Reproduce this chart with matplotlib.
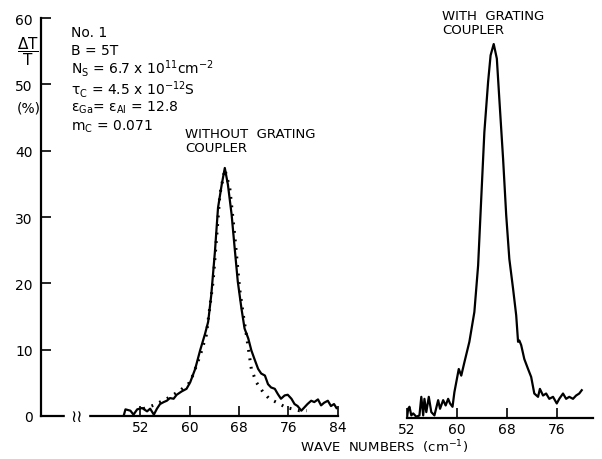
import matplotlib
matplotlib.use('Agg')
import matplotlib.pyplot as plt

plt.rcParams['font.family'] = ['DejaVu Sans']
plt.rcParams['mathtext.default'] = 'regular'

# left panel: without grating coupler (measured, solid)
wn_meas = [49.3, 49.6, 50.4, 50.9, 51.5, 52.3, 53.1, 53.6, 54.2, 54.7, 55.2, 55.8,
           56.3, 56.8, 57.4, 57.9, 58.7, 59.5, 60.1, 60.9, 61.7, 62.5, 63.0, 63.5,
           64.1, 64.6, 65.2, 65.7, 66.2, 66.8, 67.3, 67.8, 68.4, 68.9, 69.5, 70.0,
           70.5, 71.1, 71.6, 72.2, 72.7, 73.2, 73.8, 74.3, 74.8, 75.4, 75.9, 76.5,
           77.0, 77.5, 78.1, 78.6, 79.1, 79.7, 80.2, 80.8, 81.3, 81.8, 82.4, 82.9,
           83.4, 83.8]
dt_meas = [0.0, 1.0, 0.8, 0.2, 1.0, 1.2, 0.7, 1.1, 0.2, 1.1, 1.8, 2.1,
           2.3, 2.7, 2.6, 3.2, 3.7, 4.1, 5.1, 7.1, 9.9, 12.4, 14.2, 18.2,
           24.8, 31.4, 34.9, 37.4, 34.9, 30.4, 25.3, 20.3, 16.2, 13.2, 11.7, 9.9,
           8.6, 7.1, 6.4, 6.1, 4.8, 4.3, 4.1, 3.3, 2.6, 3.1, 3.2, 2.6,
           1.8, 1.5, 0.8, 1.3, 1.8, 2.3, 2.1, 2.5, 1.6, 2.0, 2.3, 1.5,
           1.8, 1.2]

# left panel: theory (dotted)
wn_fit = [52.5, 54.1, 56.3, 58.4, 60.1, 61.7, 62.7, 63.8, 64.4, 64.9, 65.7, 66.5,
          67.3, 68.1, 68.7, 69.2, 70.0, 70.8, 71.9, 72.9, 74.0, 75.6, 77.8, 79.0]
dt_fit = [1.1, 1.6, 2.6, 3.8, 5.1, 9.1, 12.2, 20.3, 27.3, 33.4, 37.2, 34.4,
          27.3, 19.2, 15.2, 12.2, 7.1, 5.1, 3.6, 2.6, 2.1, 1.3, 0.8, 0.8]

# right panel: with grating coupler
wn_grat = [52.0, 52.2, 52.4, 52.7, 53.0, 53.5, 54.0, 54.3, 54.6, 54.8, 55.1, 55.5,
           55.9, 56.4, 57.0, 57.3, 57.8, 58.2, 58.6, 58.9, 59.3, 59.6, 60.0, 60.3,
           60.7, 61.2, 62.0, 62.8, 63.4, 63.9, 64.4, 65.0, 65.4, 65.9, 66.4, 66.8,
           67.4, 67.9, 68.4, 69.0, 69.5, 69.8, 70.0, 70.3, 70.8, 71.4, 71.9, 72.4,
           73.0, 73.3, 73.8, 74.3, 74.8, 75.4, 76.0, 76.4, 77.0, 77.5, 78.0, 78.6,
           79.1, 79.6, 80.0]
dt_grat = [0.0, 1.4, 1.7, 0.4, 0.7, 0.2, 0.4, 3.2, 0.4, 2.9, 0.9, 3.2,
           0.9, 0.4, 2.7, 1.4, 2.7, 1.9, 2.9, 2.2, 1.7, 3.9, 5.9, 7.4,
           6.4, 8.4, 11.5, 16.0, 23.0, 33.1, 43.1, 50.7, 54.7, 56.4, 54.2, 48.1,
           39.1, 30.6, 24.0, 19.5, 15.5, 11.5, 11.7, 11.0, 8.9, 7.4, 6.2, 3.7,
           3.2, 4.4, 3.4, 3.7, 2.9, 3.2, 2.2, 2.9, 3.7, 2.9, 3.2, 2.9,
           3.4, 3.7, 4.2]

ticks_left = [52, 60, 68, 76, 84]
ticks_right = [52, 60, 68, 76]
yticks = [0, 10, 20, 30, 40, 50, 60]

fig = plt.figure(figsize=(6.02, 4.60), dpi=100)
ax1 = fig.add_axes([0.068, 0.0935, 0.493, 0.865])
ax2 = fig.add_axes([0.676, 0.089, 0.309, 0.865])

ax1.plot(wn_meas, dt_meas, color='black', lw=1.6)
ax1.plot(wn_fit, dt_fit, color='black', lw=2.2, linestyle=(0, (0.6, 2.2)))
ax2.plot(wn_grat, dt_grat, color='black', lw=1.6)

ax1.set_xlim(35.9, 84)
ax1.set_ylim(0, 60)
ax2.set_xlim(52, 81.8)
ax2.set_ylim(0, 60)

for ax in (ax1, ax2):
    ax.spines['top'].set_visible(False)
    ax.spines['right'].set_visible(False)
    ax.spines['bottom'].set_linewidth(1.6)
    ax.tick_params(axis='x', direction='in', length=7, width=1.2, labelsize=10, pad=3)
    ax.patch.set_alpha(0)
ax1.spines['left'].set_linewidth(1.6)
ax2.spines['left'].set_visible(False)
ax1.set_xticks(ticks_left)
ax2.set_xticks(ticks_right)
ax1.set_yticks(yticks)
ax1.tick_params(axis='y', direction='in', length=7, width=1.2, labelsize=10, pad=6)
ax2.set_yticks([])

# axis break on the left panel
ax1.text(41.7, 0, '\u2240\u2240', ha='center', va='center', fontsize=12,
         backgroundcolor='white', clip_on=False)

fig.text(0.047, 0.887, r'$\dfrac{\Delta T}{T}$', ha='center', va='center', fontsize=11)
fig.text(0.047, 0.765, '(%)', ha='center', va='center', fontsize=10)

params = ['No. 1',
          'B = 5T',
          r'N$_S$ = 6.7 x 10$^{11}$cm$^{-2}$',
          r'$\tau_C$ = 4.5 x 10$^{-12}$S',
          r'$\epsilon_{Ga}$= $\epsilon_{Al}$ = 12.8',
          r'm$_C$ = 0.071']
ypix = [33, 51, 68, 89, 108, 127]
for t, yp in zip(params, ypix):
    fig.text(0.118, 1 - yp / 460, t, ha='left', va='center', fontsize=10)

fig.text(185 / 602, 1 - 141 / 460, 'WITHOUT  GRATING\nCOUPLER', ha='left', va='center',
         fontsize=9.5, linespacing=1.1)
fig.text(442 / 602, 1 - 23 / 460, 'WITH  GRATING\nCOUPLER', ha='left', va='center',
         fontsize=9.5, linespacing=1.1)
fig.text(300 / 602, 1 - 447 / 460, r'WAVE  NUMBERS  (cm$^{-1}$)', ha='left', va='center',
         fontsize=9.5)

fig.savefig('out.png', dpi=100)
